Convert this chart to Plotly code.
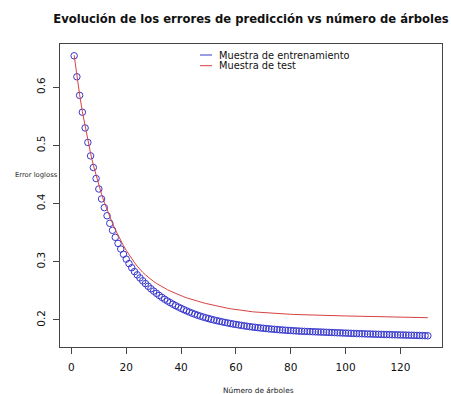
import plotly.graph_objects as go

# Number of boosting iterations (trees)
arboles = list(range(1, 131))

# Log-loss on the training sample, one value per tree count
error_entrenamiento = [
    0.654, 0.618, 0.586, 0.557, 0.530, 0.505, 0.482, 0.462, 0.443, 0.425,
    0.408, 0.393, 0.379, 0.366, 0.354, 0.342, 0.3315, 0.3218, 0.3128, 0.3045,
    0.2968, 0.2897, 0.2831, 0.2774, 0.2722, 0.2672, 0.2624, 0.2578, 0.2535, 0.2495,
    0.2457, 0.2421, 0.2387, 0.2355, 0.2325, 0.2297, 0.2270, 0.2245, 0.2221, 0.2198,
    0.2176, 0.2155, 0.2135, 0.2116, 0.2098, 0.2081, 0.2065, 0.2050, 0.2036, 0.2023,
    0.2010, 0.1998, 0.1987, 0.1976, 0.1966, 0.1956, 0.1947, 0.1938, 0.1929, 0.1921,
    0.1913, 0.1905, 0.1898, 0.1891, 0.1884, 0.1878, 0.1872, 0.1866, 0.1861, 0.1856,
    0.1851, 0.1846, 0.1842, 0.1838, 0.1834, 0.1830, 0.1826, 0.1823, 0.1820, 0.1817,
    0.1814, 0.1811, 0.1808, 0.1805, 0.1803, 0.1801, 0.1799, 0.1797, 0.1795, 0.1793,
    0.1791, 0.1789, 0.1787, 0.1785, 0.1783, 0.1781, 0.1779, 0.1777, 0.1775, 0.1773,
    0.1771, 0.1769, 0.1767, 0.1765, 0.1763, 0.1762, 0.1760, 0.1758, 0.1757, 0.1755,
    0.1754, 0.1752, 0.1751, 0.1749, 0.1748, 0.1747, 0.1745, 0.1744, 0.1743, 0.1741,
    0.1740, 0.1739, 0.1737, 0.1736, 0.1735, 0.1733, 0.1732, 0.1730, 0.1729, 0.1727,
]

# Log-loss on the test sample
error_test = [
    0.655, 0.619, 0.587, 0.558, 0.532, 0.508, 0.486, 0.466, 0.448, 0.431,
    0.416, 0.402, 0.389, 0.377, 0.366, 0.355, 0.345, 0.336, 0.3275, 0.3195,
    0.3120, 0.3050, 0.2985, 0.2923, 0.2865, 0.2818, 0.2774, 0.2733, 0.2695, 0.2660,
    0.2628, 0.2598, 0.2570, 0.2544, 0.2520, 0.2497, 0.2475, 0.2454, 0.2434, 0.2415,
    0.2397, 0.2380, 0.2364, 0.2349, 0.2335, 0.2321, 0.2308, 0.2295, 0.2283, 0.2271,
    0.2260, 0.2249, 0.2238, 0.2228, 0.2218, 0.2209, 0.2200, 0.2192, 0.2184, 0.2176,
    0.2169, 0.2162, 0.2156, 0.2150, 0.2145, 0.2140, 0.2136, 0.2132, 0.2128, 0.2124,
    0.2120, 0.2117, 0.2114, 0.2111, 0.2108, 0.2105, 0.2102, 0.2100, 0.2098, 0.2096,
    0.2094, 0.2092, 0.2090, 0.2088, 0.2086, 0.2084, 0.2082, 0.2080, 0.2079, 0.2078,
    0.2077, 0.2076, 0.2075, 0.2074, 0.2073, 0.2072, 0.2071, 0.2070, 0.2069, 0.2068,
    0.2067, 0.2066, 0.2065, 0.2064, 0.2063, 0.2062, 0.2061, 0.2060, 0.2059, 0.2058,
    0.2057, 0.2056, 0.2055, 0.2054, 0.2053, 0.2052, 0.2051, 0.2050, 0.2049, 0.2048,
    0.2047, 0.2046, 0.2045, 0.2044, 0.2043, 0.2042, 0.2041, 0.2040, 0.2039, 0.2038,
]

x_ticks = [0, 20, 40, 60, 80, 100, 120]
y_ticks = [0.2, 0.3, 0.4, 0.5, 0.6]

titulo = "Evolución de los errores de predicción vs número de árboles"
etiqueta_x = "Número de árboles"
etiqueta_y = "Error logloss"
leyenda = ["Muestra de entrenamiento", "Muestra de test"]

color_train = "rgb(55,55,205)"
color_test = "rgb(215,65,65)"
FONT = "DejaVu Sans"

W, H = 451, 394
ML, MR, MT, MB = 60, 9, 44, 47

fig = go.Figure()

fig.add_trace(go.Scatter(
    x=arboles, y=error_entrenamiento, mode="markers",
    marker=dict(symbol="circle-open", size=6.5, color=color_train,
                line=dict(width=1, color=color_train)),
    name=leyenda[0], showlegend=False,
))
fig.add_trace(go.Scatter(
    x=arboles, y=error_test, mode="lines",
    line=dict(color=color_test, width=1),
    name=leyenda[1], showlegend=False,
))

# R-style 4% padding around the data range
xmin, xmax = min(arboles), max(arboles)
allv = error_entrenamiento + error_test
ymin, ymax = min(allv), max(allv)
dx = (xmax - xmin) * 0.04
dy = (ymax - ymin) * 0.04

axis_common = dict(
    showline=True, linecolor="#444", linewidth=1, mirror=True,
    ticks="outside", ticklen=6, tickcolor="#444", tickwidth=1,
    showgrid=False, zeroline=False,
    tickfont=dict(family=FONT, size=10.5, color="#111"),
)

fig.update_xaxes(range=[xmin - dx, xmax + dx], tickvals=x_ticks,
                 ticklabelstandoff=4, **axis_common)
fig.update_yaxes(range=[ymin - dy, ymax + dy], tickvals=y_ticks,
                 ticktext=[f"{v:.1f}" for v in y_ticks],
                 tickangle=-90, ticklabelstandoff=4, **axis_common)

# Legend drawn R-style: short line sample + label, no frame
pw, ph = W - ML - MR, H - MT - MB
def px_x(p):
    return (p - ML) / pw
def px_y(p):
    return (H - MB - p) / ph

for i, (lbl, col) in enumerate(zip(leyenda, [color_train, color_test])):
    yy = px_y(55 + i * 10.7)
    fig.add_shape(type="line", xref="paper", yref="paper",
                  x0=px_x(200), x1=px_x(212), y0=yy, y1=yy,
                  line=dict(color=col, width=1))
    fig.add_annotation(x=px_x(217), y=yy, xref="paper", yref="paper",
                       text=lbl, showarrow=False, xanchor="left", yanchor="middle",
                       font=dict(family=FONT, size=9.8, color="#111"))

fig.add_annotation(x=px_x(36), y=px_y(175), xref="paper", yref="paper",
                   text=etiqueta_y, showarrow=False, xanchor="center", yanchor="middle",
                   font=dict(family=FONT, size=6.8, color="#222"))
fig.add_annotation(x=px_x(258), y=px_y(390.5), xref="paper", yref="paper",
                   text=etiqueta_x, showarrow=False, xanchor="center", yanchor="middle",
                   font=dict(family=FONT, size=7.4, color="#222"))

fig.update_layout(
    width=W, height=H,
    margin=dict(l=ML, r=MR, t=MT, b=MB),
    paper_bgcolor="white", plot_bgcolor="white",
    title=dict(text=f"<b>{titulo}</b>", x=251 / W, xanchor="center",
               y=1 - 19 / H, yanchor="middle",
               font=dict(family=FONT, size=11.6, color="#111")),
)

fig.write_html("out.html")
